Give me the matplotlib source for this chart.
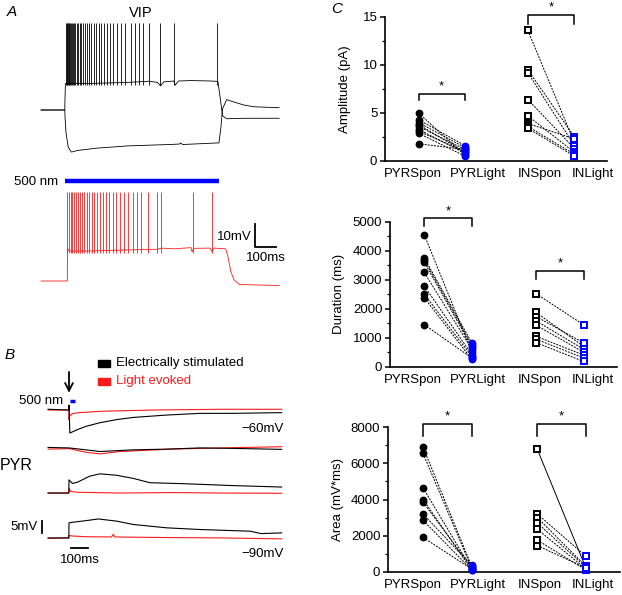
import matplotlib
matplotlib.use("Agg")
import matplotlib.pyplot as plt
from matplotlib.patches import Rectangle

plt.rcParams['font.family'] = ['Liberation Sans', 'DejaVu Sans']

W, H = 622, 595

# ---------------- DATA ----------------
# Panel A (VIP): times in ms from step onset, voltages in mV relative to rest
vip_step_end = 733
black_spikes = [4.8, 7.9, 11.1, 14.3, 17.5, 20.6, 23.8, 28.6, 33.3, 38.1, 42.9, 49.2, 55.6,
                61.9, 69.8, 77.8, 85.7, 95.2, 104.8, 114.3, 125.4, 136.5, 147.6, 160.3, 173,
                185.7, 200, 214.3, 230.2, 247.6, 268.3, 287.3, 312.7, 333.3, 354, 373, 398.4,
                452.4, 520.6, 725.4]
black_spike_peak = 38.0
black_spike_trough = 11.0
depol_t = [-114, -1, 0, 2, 100, 300, 400, 440, 455, 470, 518, 525, 540, 600, 700, 728, 738, 750, 770, 850, 1020]
depol_v = [0, 0, 5, 11.5, 11.5, 12.0, 12.5, 12.0, 10.5, 12.2, 12.6, 10.8, 12.6, 12.8, 12.6, 12.4, 6, -2.5, -3.8, -3.6, -3.6]
hyper_t = [-114, -1, 0, 5, 15, 30, 60, 150, 300, 500, 545, 550, 560, 733, 742, 750, 770, 800, 850, 900, 1020]
hyper_v = [0, 0, -3, -10, -16, -18.3, -17.6, -16.6, -15.6, -15.0, -14.8, -14.3, -15.0, -14.3, -8, 0.5, 4.5, 3.6, 2.2, 1.4, 1.0]

red_spikes = [11.1, 19, 27, 34.9, 42.9, 52.4, 61.9, 71.4, 81, 92, 103.2, 114.3, 127, 139.7,
              152.4, 166.7, 181, 195.2, 211, 227, 242.9, 261.9, 281, 301.6, 322.2, 342.9,
              363.5, 396.8, 436.5, 455.6, 608, 698.4]
red_spike_peak = 38.7
red_spike_trough = 12.0
red_t = [-114, 11, 12, 20, 100, 300, 440, 460, 520, 600, 605, 612, 690, 700, 710, 765, 775, 790, 805, 830, 1020]
red_v = [0, 0, 14, 13.0, 13.0, 13.5, 13.8, 14.3, 14.0, 14.5, 12.6, 14.2, 14.3, 12.8, 14.3, 14.0, 11, 4, 0.5, -1.5, -2.0]

# Panel B (PYR): times in ms from stimulus, mV relative to each baseline
b1_black_t = [-123, -1, 0, 5, 45, 100, 182, 280, 378, 575, 771, 967, 1251]
b1_black_v = [0.3, 0, 2, -9.6, -8.3, -6.8, -5.3, -4.0, -3.1, -2.1, -1.4, -1.4, -1.1]
b1_red_t = [-123, -1, 0, 3, 20, 60, 200, 500, 900, 1251]
b1_red_v = [0, 0, -4, -2.5, -1.5, -1.1, -0.5, 0, 0.3, 0.3]
b2_black_t = [-123, 0, 100, 182, 378, 575, 771, 967, 1251]
b2_black_v = [0.2, 0, -0.8, -1.5, -0.8, -0.5, 0, -0.2, -0.6]
b2_red_t = [-123, 0, 100, 182, 300, 450, 600, 900, 1251]
b2_red_v = [-0.5, -0.3, -1.8, -2.5, -1.5, -1.0, -0.5, 0, 0.5]
b3_black_t = [-123, -1, 0, 20, 50, 120, 182, 280, 378, 476, 673, 967, 1251]
b3_black_v = [0, 0, 5.5, 4.0, 4.5, 7.0, 8.0, 7.4, 6.1, 4.3, 3.9, 3.1, 2.5]
b3_red_t = [-123, -1, 0, 10, 60, 300, 600, 900, 1251]
b3_red_v = [0, 0, 2, 0.6, 0.3, 0, 0.2, 0, -0.1]
b4_black_t = [-123, -1, 0, 30, 100, 172, 280, 378, 575, 771, 1065, 1130, 1251]
b4_black_v = [0, 0, 6.3, 6.6, 7.2, 7.9, 7.0, 5.6, 4.2, 3.5, 2.8, 1.8, 2.1]
b4_red_t = [-123, -1, 0, 20, 100, 250, 260, 270, 500, 900, 1251]
b4_red_v = [-0.2, 0, 1.0, 0.8, 0.5, 0.4, 1.5, 0.4, 0.2, 0, -0.4]

# Panel C
categories = ['PYRSpon', 'PYRLight', 'INSpon', 'INLight']
amp_pyr_spon = [5.0, 4.3, 4.0, 3.8, 3.6, 3.3, 3.1, 2.9, 1.8]
amp_pyr_light = [0.6, 1.6, 1.4, 0.9, 1.2, 0.8, 1.0, 0.5, 1.2]
amp_in_spon = [13.6, 9.5, 9.2, 6.4, 4.7, 3.9, 3.6, 3.4]
amp_in_light = [1.9, 2.5, 1.6, 1.3, 0.9, 2.3, 0.7, 0.5]
dur_pyr_spon = [4550, 3750, 3680, 3600, 3250, 2780, 2500, 2380, 1450]
dur_pyr_light = [500, 820, 750, 680, 600, 420, 350, 250, 300]
dur_in_spon = [2520, 1870, 1730, 1580, 1430, 1050, 950, 830]
dur_in_light = [1440, 700, 820, 600, 500, 400, 300, 180]
area_pyr_spon = [6900, 6550, 4650, 4000, 3850, 3200, 2850, 1900]
area_pyr_light = [300, 200, 150, 100, 250, 350, 100, 150]
area_in_spon = [6780, 3200, 3000, 2700, 2350, 1750, 1450]
area_in_light = [200, 850, 300, 250, 150, 100, 200]
cat_pos = [0, 1, 2.35, 3.35]

FS = 9.5

fig = plt.figure(figsize=(W / 100, H / 100), dpi=100)


def make_axes(l, t, r, b, x0, xs, y0, ys):
    ax = fig.add_axes([l / W, 1 - b / H, (r - l) / W, (b - t) / H])
    ax.set_xlim((l - x0) / xs, (r - x0) / xs)
    ax.set_ylim((y0 - b) / ys, (y0 - t) / ys)
    ax.axis('off')
    return ax


def ftext(x, y, s, **kw):
    kw.setdefault('fontsize', FS)
    fig.text(x / W, 1 - y / H, s, **kw)


# ---------------- Panel A ----------------
axA = make_axes(30, 15, 295, 165, 65, 0.21, 110, 2.3)
axA.plot(depol_t, depol_v, color='black', lw=0.6)
axA.plot(hyper_t, hyper_v, color='black', lw=0.6)
axA.vlines(black_spikes, black_spike_trough, black_spike_peak, color='black', lw=0.6)

axA2 = make_axes(30, 170, 295, 295, 65, 0.21, 281, 2.3)
axA2.plot(red_t, red_v, color='#ff1a1a', lw=0.6)
axA2.vlines(red_spikes, red_spike_trough, red_spike_peak, color='#ff1a1a', lw=0.6)
axA2.plot([0, vip_step_end], [43.5, 43.5], color='#0000ff', lw=3.2, solid_capstyle='butt')
axA2.plot([905, 905, 1005], [24.8, 14.8, 14.8], color='black', lw=1.3)

ftext(12, 12, 'A', fontsize=11, style='italic', ha='center', va='center')
ftext(141, 13, 'VIP', fontsize=10.5, ha='center', va='center')
ftext(58, 182, '500 nm', ha='right', va='center')
ftext(252, 237, '10mV', ha='right', va='center')
ftext(266, 258, '100ms', ha='center', va='center')

# ---------------- Panel B ----------------
axB = make_axes(30, 362, 295, 570, 69, 0.17, 410, 2.4)
offsets = [0, -15.8, -34.6, -53.3]
traces = [(b1_black_t, b1_black_v, b1_red_t, b1_red_v),
          (b2_black_t, b2_black_v, b2_red_t, b2_red_v),
          (b3_black_t, b3_black_v, b3_red_t, b3_red_v),
          (b4_black_t, b4_black_v, b4_red_t, b4_red_v)]
for off, (bt, bv, rt, rv) in zip(offsets, traces):
    axB.plot(rt, [v + off for v in rv], color='#ff1a1a', lw=0.8)
    axB.plot(bt, [v + off for v in bv], color='black', lw=0.8)
axB.plot([-159, -159], [-51.4, -46.4], color='black', lw=1.3)
axB.plot([12, 112], [-57.4, -57.4], color='black', lw=1.3)
axB.plot([6, 35], [3.75, 3.75], color='#0000ff', lw=2.5, solid_capstyle='butt')
axB.annotate('', xy=(0, 6.0), xytext=(0, 17.0),
             arrowprops=dict(arrowstyle='->', color='black', lw=1.3, mutation_scale=14),
             annotation_clip=False)

ftext(10, 355, 'B', fontsize=11, style='italic', ha='center', va='center')
fig.patches.append(Rectangle((98 / W, 1 - 367 / H), 12 / W, 7 / H, color='black',
                             transform=fig.transFigure, figure=fig))
fig.patches.append(Rectangle((98 / W, 1 - 385 / H), 12 / W, 7 / H, color='#ff1a1a',
                             transform=fig.transFigure, figure=fig))
ftext(116, 363, 'Electrically stimulated', ha='left', va='center')
ftext(116, 381, 'Light evoked', ha='left', va='center', color='#ff1a1a')
ftext(63, 401, '500 nm', ha='right', va='center')
ftext(284, 429, '\u221260mV', ha='right', va='center')
ftext(284, 554, '\u221290mV', ha='right', va='center')
ftext(0, 466, 'PYR', fontsize=11.5, ha='left', va='center')
ftext(38, 527, '5mV', ha='right', va='center')
ftext(80, 560, '100ms', ha='center', va='center')

# ---------------- Panel C ----------------
ftext(337, 9, 'C', fontsize=11, style='italic', ha='center', va='center')

LABEL_PX = [413, 478, 540, 592.5]  # pixel centres of the category labels
XLIM = (-0.72, 4.05)


def cpanel(l, t, r, b, ymax, major, minor, ylabel, labx, pyr_s, pyr_l, in_s, in_l,
           br_pyr, br_in, solid_first_in=False):
    ax = fig.add_axes([l / W, 1 - b / H, (r - l) / W, (b - t) / H])
    ax.set_xlim(*XLIM)
    ax.set_ylim(0, ymax)
    for s in ['top', 'right']:
        ax.spines[s].set_visible(False)
    for s in ['left', 'bottom']:
        ax.spines[s].set_linewidth(1.2)
    ax.set_yticks(range(0, int(ymax) + 1, major))
    ax.set_yticks([v * minor for v in range(int(ymax / minor) + 1)], minor=True)
    ax.tick_params(axis='y', which='major', direction='out', length=3.5, width=1.1,
                   labelsize=FS, pad=2)
    ax.tick_params(axis='y', which='minor', direction='out', length=2, width=0.9)
    span = XLIM[1] - XLIM[0]
    ax.set_xticks([XLIM[0] + (p - l) / (r - l) * span for p in LABEL_PX])
    ax.set_xticklabels(categories)
    ax.tick_params(axis='x', length=0, labelsize=FS, pad=5)
    ax.set_ylabel(ylabel, fontsize=FS)
    ax.yaxis.set_label_coords(labx, 0.5)
    for a, bb in zip(pyr_s, pyr_l):
        ax.plot([cat_pos[0], cat_pos[1]], [a, bb], color='black', lw=0.7,
                ls=(0, (2, 1.2)), zorder=2)
    for i, (a, bb) in enumerate(zip(in_s, in_l)):
        ls = '-' if (solid_first_in and i == 0) else (0, (2, 1.2))
        ax.plot([cat_pos[2], cat_pos[3]], [a, bb], color='black', lw=0.7, ls=ls, zorder=2)
    ax.plot([cat_pos[0]] * len(pyr_s), pyr_s, 'o', color='black', ms=4.6, zorder=3,
            clip_on=False)
    ax.plot([cat_pos[1]] * len(pyr_l), pyr_l, 'o', color='#0000ff', ms=4.6, zorder=3,
            clip_on=False)
    ax.plot([cat_pos[2]] * len(in_s), in_s, 's', mfc='white', mec='black', mew=1.4,
            ms=5, zorder=3, clip_on=False)
    ax.plot([cat_pos[3]] * len(in_l), in_l, 's', mfc='white', mec='#0000ff', mew=1.4,
            ms=5, zorder=3, clip_on=False)
    for (x1, x2), (top, leg) in [((cat_pos[0], cat_pos[1]), br_pyr),
                                 ((cat_pos[2], cat_pos[3]), br_in)]:
        ax.plot([x1, x1, x2, x2], [leg, top, top, leg], color='black', lw=1.1,
                clip_on=False)
        ax.text((x1 + x2) / 2, top + (top - leg) * 0.15, '*', ha='center', va='bottom',
                fontsize=FS)
    return ax


cpanel(385, 17, 607, 161, 15, 5, 2.5, 'Amplitude (pA)', -0.153,
       amp_pyr_spon, amp_pyr_light, amp_in_spon, amp_in_light,
       (7.0, 6.35), (15.2, 14.3))
cpanel(390, 221.7, 617, 366.7, 5000, 1000, 500, 'Duration (ms)', -0.2,
       dur_pyr_spon, dur_pyr_light, dur_in_spon, dur_in_light,
       (5115, 4850), (3300, 3015))
cpanel(388, 427.3, 620, 571.7, 8000, 2000, 1000, 'Area (mV*ms)', -0.1875,
       area_pyr_spon, area_pyr_light, area_in_spon, area_in_light,
       (8170, 7530), (8170, 7530), solid_first_in=True)

fig.savefig('out.png', dpi=100)
